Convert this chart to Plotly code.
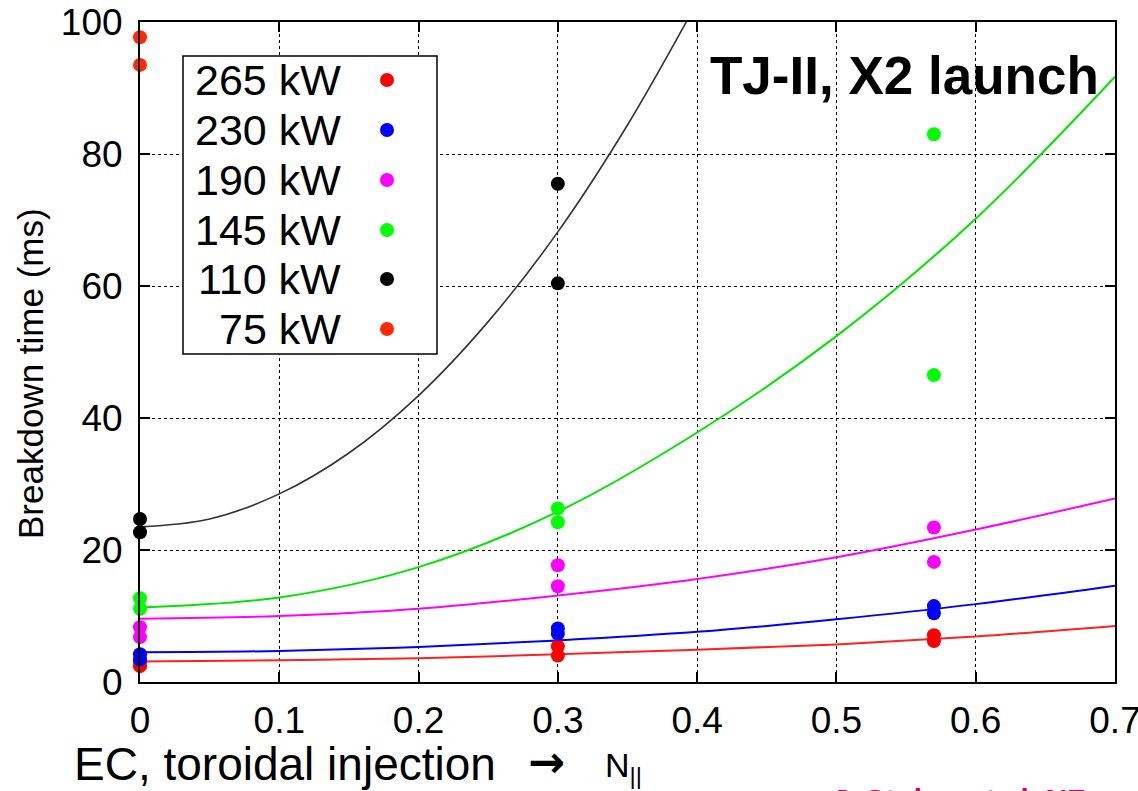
import plotly.graph_objects as go

# ---- measured breakdown times (ms) versus N_parallel ----
power_labels = ["265 kW", "230 kW", "190 kW", "145 kW", "110 kW", "75 kW"]
power_colors = ["#ff0000", "#0000ff", "#ff00ff", "#00ff00", "#000000", "#ff2a00"]

n_par_265 = [0, 0, 0.3, 0.3, 0.57, 0.57]
t_265 = [3.0, 2.4, 5.4, 4.0, 7.1, 6.2]

n_par_230 = [0, 0, 0.3, 0.3, 0.57, 0.57]
t_230 = [4.2, 3.4, 8.1, 7.3, 11.5, 10.4]

n_par_190 = [0, 0, 0.3, 0.3, 0.57, 0.57]
t_190 = [8.3, 6.8, 17.7, 14.5, 23.4, 18.2]

n_par_145 = [0, 0, 0.3, 0.3, 0.57, 0.57]
t_145 = [12.7, 11.1, 26.3, 24.2, 83.0, 46.5]

n_par_110 = [0, 0, 0.3, 0.3]
t_110 = [24.7, 22.7, 75.5, 60.4]

n_par_75 = [0, 0]
t_75 = [97.7, 93.5]

# ---- fitted trend curves ----
fit_n_par = [0, 0.1, 0.2, 0.3, 0.4, 0.5, 0.6, 0.7]
fit_265 = [3.1, 3.3, 3.6, 4.2, 4.9, 5.7, 6.9, 8.5]
fit_230 = [4.5, 4.7, 5.3, 6.3, 7.6, 9.5, 11.8, 14.6]
fit_190 = [9.6, 10.0, 11.1, 13.1, 15.6, 18.9, 23.1, 27.8]
fit_145 = [11.3, 12.8, 17.4, 25.8, 37.8, 52.4, 70.2, 91.7]

fit_n_par_110 = [0, 0.05, 0.1, 0.15, 0.2, 0.25, 0.3, 0.35, 0.4]
fit_110 = [23.5, 24.7, 28.5, 34.7, 43.4, 54.6, 68.2, 84.4, 103.0]

x_ticks = [0, 0.1, 0.2, 0.3, 0.4, 0.5, 0.6, 0.7]
x_tick_text = ["0", "0.1", "0.2", "0.3", "0.4", "0.5", "0.6", "0.7"]
y_ticks = [0, 20, 40, 60, 80, 100]

FONT = "Liberation Sans, Arial, Helvetica, sans-serif"

fig = go.Figure()

curves = [
    (fit_n_par, fit_265, "#ff2020", 2),
    (fit_n_par, fit_230, "#0000ff", 2),
    (fit_n_par, fit_190, "#ff00ff", 2),
    (fit_n_par, fit_145, "#00e600", 2),
    (fit_n_par_110, fit_110, "#333333", 1.6),
]
for cx, cy, col, w in curves:
    fig.add_trace(go.Scatter(
        x=cx, y=cy, mode="lines",
        line=dict(color=col, width=w, shape="spline", smoothing=1.0),
        hoverinfo="skip", showlegend=False,
    ))

series = [
    (n_par_265, t_265), (n_par_230, t_230), (n_par_190, t_190),
    (n_par_145, t_145), (n_par_110, t_110), (n_par_75, t_75),
]
for (sx, sy), col, name in zip(series, power_colors, power_labels):
    fig.add_trace(go.Scatter(
        x=sx, y=sy, mode="markers", name=name,
        marker=dict(color=col, size=14, line=dict(width=0)),
        cliponaxis=False, showlegend=False,
    ))

axis_common = dict(
    showline=True, linecolor="black", linewidth=2, mirror="ticks",
    ticks="inside", ticklen=10, tickwidth=1.5, tickcolor="black",
    showgrid=True, gridcolor="black", gridwidth=1.4, griddash="dot",
    zeroline=False, automargin=False, ticklabeloverflow="allow",
    tickfont=dict(family=FONT, size=37, color="black"),
)

fig.update_xaxes(range=[0, 0.70001], tickvals=x_ticks, ticktext=x_tick_text,
                 ticklabelstandoff=5, **axis_common)
fig.update_yaxes(range=[0, 100.001], tickvals=y_ticks, ticklabelstandoff=8, **axis_common)

# ---- legend box with labels right-aligned and dots on the right ----
PL, PR, PT, PB = 140, 1115, 22, 682
def px(xp):
    return (xp - PL) / (PR - PL)
def py(yp):
    return (PB - yp) / (PB - PT)

shapes = [dict(type="rect", xref="paper", yref="paper",
               x0=px(183), x1=px(437), y0=py(354), y1=py(56),
               line=dict(color="black", width=1.5), fillcolor="white", layer="above")]
annotations = []
row_y = [80, 130, 180, 230, 279, 329]
for lab, col, ry in zip(power_labels, power_colors, row_y):
    annotations.append(dict(
        x=px(343), y=py(ry), xref="paper", yref="paper", xanchor="right", yanchor="middle",
        text=lab, showarrow=False, font=dict(family=FONT, size=43, color="black"),
    ))
    shapes.append(dict(
        type="circle", xref="paper", yref="paper", xsizemode="pixel", ysizemode="pixel",
        xanchor=px(387), yanchor=py(ry), x0=-7, x1=7, y0=-7, y1=7,
        fillcolor=col, line=dict(width=0), layer="above",
    ))

annotations += [
    dict(x=px(1101), y=py(76), xref="paper", yref="paper", xanchor="right", yanchor="middle",
         text="<b>TJ-II, X2 launch</b>", showarrow=False,
         font=dict(family=FONT, size=53, color="black")),
    dict(x=px(30), y=py(374), xref="paper", yref="paper", xanchor="center", yanchor="middle",
         text="Breakdown time (ms)", textangle=-90, showarrow=False,
         font=dict(family=FONT, size=35, color="black")),
    dict(x=px(72), y=py(764), xref="paper", yref="paper", xanchor="left", yanchor="middle",
         text="EC, toroidal injection", showarrow=False,
         font=dict(family=FONT, size=46, color="black")),
    dict(x=px(526), y=py(762), xref="paper", yref="paper", xanchor="left", yanchor="middle",
         text="<b>→</b>", showarrow=False,
         font=dict(family="DejaVu Sans", size=44, color="black")),
    dict(x=px(603), y=py(744), xref="paper", yref="paper", xanchor="left", yanchor="top",
         text="N<sub>||</sub>", showarrow=False,
         font=dict(family=FONT, size=34, color="black")),
    dict(x=px(830), y=py(781), xref="paper", yref="paper", xanchor="left", yanchor="top",
         text="<b>J. Stober et al. NF</b>", showarrow=False,
         font=dict(family=FONT, size=30, color="#d4006e")),
]

fig.update_layout(
    width=1138, height=791,
    margin=dict(l=PL, r=1138 - PR, t=PT, b=791 - PB),
    paper_bgcolor="white", plot_bgcolor="white",
    shapes=shapes, annotations=annotations,
    showlegend=False,
)

fig.write_html("out.html")
